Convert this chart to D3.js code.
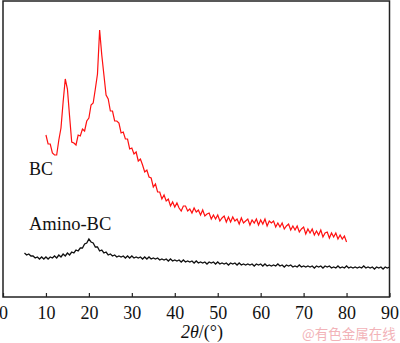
<!DOCTYPE html>
<html><head><meta charset="utf-8">
<script src="https://cdn.jsdelivr.net/npm/d3@7"></script>
<style>html,body{margin:0;padding:0;background:#fff;}svg{display:block;}
.serif{font-family:'Liberation Serif','Times New Roman',serif;}</style>
</head><body>
<svg id="chart" width="400" height="343"></svg>
<script>
// x-axis ticks (2θ, degrees)
const xTicks = [0,10,20,30,40,50,60,70,80,90];
// BC: 2θ from 10° to 80°, step 0.5°
const bcStart = 10, step = 0.5;
const bcIntensity = [
 162,153,153,144,142,142,157,169,195,218,
 208,181,155,154,152,162,161,168,166,176,
 179,192,194,208,223,267,242,222,202,198,
 186,186,176,176,174,164,165,158,158,148,
 149,143,145,136,138,132,125,127,120,119,
 110,113,105,105,98,102,96,98,91,95,
 90,94,89,86,91,91,86,88,84,89,
 85,87,82,87,81,83,84,78,82,78,
 82,76,79,81,75,80,75,80,76,78,
 73,79,74,76,78,72,77,74,78,72,
 77,73,78,71,76,74,76,70,74,70,
 74,68,71,73,67,71,67,71,65,68,
 70,63,68,64,68,62,66,62,67,60,
 64,65,59,64,60,64,58,62,58,61,
 55
];
// Amino-BC: 2θ from 5° to 90°, step 0.5°
const aminoStart = 5;
const aminoIntensity = [
 44,42,43,41,41,39,40,38,40,38,
 40,38,40,39,41,39,42,40,43,41,
 44,42,45,44,47,46,49,49,53,54,
 58,55,54,50,50,46,47,44,45,42,
 43,41,42,40,41,40,41,39,41,39,
 41,39,40,39,40,38,40,38,40,38,
 39,38,39,37,38,37,38,36,38,36,
 37,36,37,35,37,35,36,35,36,34,
 36,34,35,34,35,33,35,34,35,33,
 35,33,34,33,34,32,34,33,34,32,
 34,32,33,32,33,32,33,31,33,32,
 33,31,33,31,32,31,32,31,33,31,
 32,30,32,31,32,30,31,30,32,30,
 31,30,31,30,31,29,31,30,31,29,
 31,30,31,29,30,29,31,29,30,29,
 31,29,30,29,30,29,30,29,31,29,
 30,29,30,28,30,29,30,28,30,29,
 30
];
const seriesNames = ["BC", "Amino-BC"];

const svg = d3.select("#chart");
const L = 3, R = 389.5, T = 1, B = 297;
const x = d3.scaleLinear().domain([0, 90]).range([L, R]);
const y = d3.scaleLinear().domain([0, 296]).range([B, T]);

function toPoints(start, vals){
  return vals.map((v,i)=>[start + i*step, v]);
}
const bcData = toPoints(bcStart, bcIntensity);
const aminoData = toPoints(aminoStart, aminoIntensity);

const line = d3.line().x(d=>x(d[0])).y(d=>y(d[1]));

svg.append("path").datum(aminoData).attr("d", line)
  .attr("fill","none").attr("stroke","#111").attr("stroke-width",1.3);
svg.append("path").datum(bcData).attr("d", line)
  .attr("fill","none").attr("stroke","#ff1010").attr("stroke-width",1.2);

// frame
svg.append("rect").attr("x",L).attr("y",T).attr("width",R-L).attr("height",B-T)
  .attr("fill","none").attr("stroke","#222").attr("stroke-width",1.5);

// bottom axis, ticks inward
const ax = svg.append("g").attr("transform",`translate(0,${B})`)
  .call(d3.axisBottom(x).tickValues(xTicks).tickSizeInner(-4).tickSizeOuter(0).tickPadding(9).tickFormat(d3.format("d")));
ax.attr("font-family",null).attr("font-size",null);
ax.select(".domain").remove();
ax.selectAll("line").attr("stroke","#222").attr("stroke-width",1.2);
ax.selectAll("text").attr("class","serif")
  .style("font-family","'Liberation Serif','Times New Roman',serif")
  .style("font-size","18px").attr("fill","#111");

// axis title
const title = svg.append("text").attr("x",202).attr("y",338).attr("text-anchor","middle")
  .style("font-family","'Liberation Serif','Times New Roman',serif").style("font-size","18px").attr("fill","#111");
title.append("tspan").attr("font-style","italic").text("2θ");
title.append("tspan").text("/(°)");

// series labels
svg.append("text").attr("x",29).attr("y",175).text(seriesNames[0])
  .style("font-family","'Liberation Serif','Times New Roman',serif").style("font-size","18px").attr("fill","#111");
svg.append("text").attr("x",29).attr("y",230).text(seriesNames[1])
  .style("font-family","'Liberation Serif','Times New Roman',serif").style("font-size","18.5px").attr("fill","#111");

// watermark
svg.append("text").attr("x",302).attr("y",339).text("@有色金属在线")
  .style("font-family","'Noto Sans CJK SC',sans-serif").style("font-size","13.5px").attr("fill","#f2b3b8");
</script>
</body></html>
